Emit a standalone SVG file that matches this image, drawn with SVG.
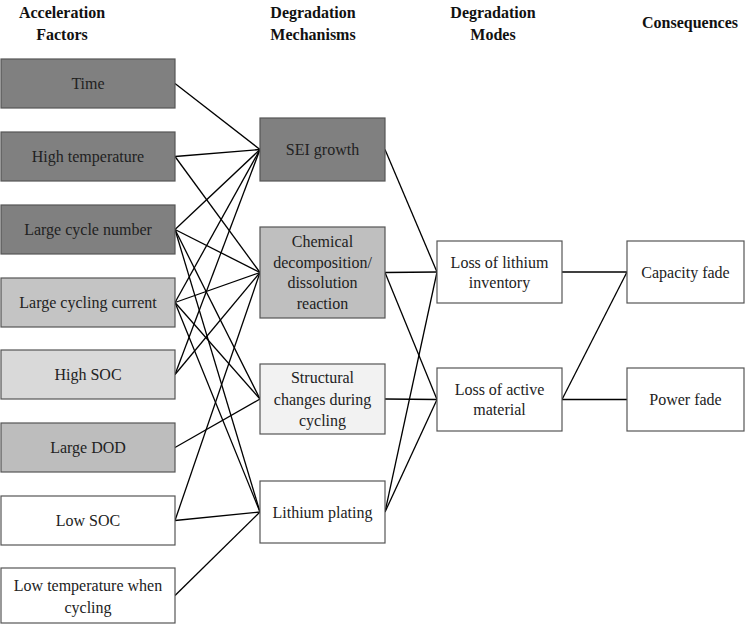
<svg xmlns="http://www.w3.org/2000/svg" width="746" height="624" viewBox="0 0 746 624">
<style>
.h{font-family:"Liberation Serif","Times New Roman",serif;font-weight:bold;font-size:16px;text-anchor:middle;fill:#111}
.t{font-family:"Liberation Serif","Times New Roman",serif;font-size:16px;text-anchor:middle;fill:#222}
.b{stroke:#555;stroke-width:1.2}
.c line{stroke:#000;stroke-width:1.3}
</style>
<rect width="746" height="624" fill="#fff"/>
<g id="headers">
<text class="h" x="62" y="18">Acceleration</text>
<text class="h" x="62" y="40">Factors</text>
<text class="h" x="313" y="18">Degradation</text>
<text class="h" x="313" y="40">Mechanisms</text>
<text class="h" x="493" y="18">Degradation</text>
<text class="h" x="493" y="40">Modes</text>
<text class="h" x="690" y="28">Consequences</text>
</g>
<g class="c" id="connectors">
<line x1="175" y1="83.5" x2="260" y2="149.5"/>
<line x1="175" y1="156.5" x2="260" y2="149.5"/>
<line x1="175" y1="156.5" x2="260" y2="272.5"/>
<line x1="175" y1="229.5" x2="260" y2="149.5"/>
<line x1="175" y1="229.5" x2="260" y2="272.5"/>
<line x1="175" y1="229.5" x2="260" y2="399"/>
<line x1="175" y1="229.5" x2="260" y2="512"/>
<line x1="175" y1="302.5" x2="260" y2="149.5"/>
<line x1="175" y1="302.5" x2="260" y2="272.5"/>
<line x1="175" y1="302.5" x2="260" y2="399"/>
<line x1="175" y1="302.5" x2="260" y2="512"/>
<line x1="175" y1="374.5" x2="260" y2="149.5"/>
<line x1="175" y1="374.5" x2="260" y2="272.5"/>
<line x1="175" y1="447.5" x2="260" y2="399"/>
<line x1="175" y1="520.5" x2="260" y2="272.5"/>
<line x1="175" y1="520.5" x2="260" y2="512"/>
<line x1="175" y1="595.5" x2="260" y2="512"/>
<line x1="385" y1="149.5" x2="437" y2="272"/>
<line x1="385" y1="272.5" x2="437" y2="272"/>
<line x1="385" y1="272.5" x2="437" y2="399.5"/>
<line x1="385" y1="399" x2="437" y2="399.5"/>
<line x1="385" y1="512" x2="437" y2="272"/>
<line x1="385" y1="512" x2="437" y2="399.5"/>
<line x1="562" y1="272" x2="627" y2="272"/>
<line x1="562" y1="399.5" x2="627" y2="272"/>
<line x1="562" y1="399.5" x2="627" y2="399.5"/>
</g>
<g id="n-time"><rect class="b" x="1" y="59" width="174" height="49" fill="#808080"/><text class="t" x="88" y="89">Time</text></g>
<g id="n-hightemp"><rect class="b" x="1" y="132" width="174" height="49" fill="#808080"/><text class="t" x="88" y="162">High temperature</text></g>
<g id="n-cyclenum"><rect class="b" x="1" y="205" width="174" height="49" fill="#808080"/><text class="t" x="88" y="235">Large cycle number</text></g>
<g id="n-current"><rect class="b" x="1" y="278" width="174" height="49" fill="#c4c4c4"/><text class="t" x="88" y="308">Large cycling current</text></g>
<g id="n-highsoc"><rect class="b" x="1" y="350" width="174" height="49" fill="#d9d9d9"/><text class="t" x="88" y="380">High SOC</text></g>
<g id="n-dod"><rect class="b" x="1" y="423" width="174" height="49" fill="#bdbdbd"/><text class="t" x="88" y="453">Large DOD</text></g>
<g id="n-lowsoc"><rect class="b" x="1" y="496" width="174" height="49" fill="#fff"/><text class="t" x="88" y="526">Low SOC</text></g>
<g id="n-lowtemp"><rect class="b" x="1" y="568" width="174" height="55" fill="#fff"/><text class="t" x="88" y="591">Low temperature when</text><text class="t" x="88" y="613">cycling</text></g>
<g id="n-sei"><rect class="b" x="260" y="118" width="125" height="63" fill="#808080"/><text class="t" x="322.5" y="155">SEI growth</text></g>
<g id="n-chem"><rect class="b" x="260" y="227" width="125" height="91" fill="#bfbfbf"/><text class="t" x="322.5" y="247">Chemical</text><text class="t" x="322.5" y="268">decomposition/</text><text class="t" x="322.5" y="288">dissolution</text><text class="t" x="322.5" y="309">reaction</text></g>
<g id="n-struct"><rect class="b" x="260" y="364" width="125" height="70" fill="#f2f2f2"/><text class="t" x="322.5" y="383">Structural</text><text class="t" x="322.5" y="405">changes during</text><text class="t" x="322.5" y="426">cycling</text></g>
<g id="n-plating"><rect class="b" x="260" y="481" width="125" height="62" fill="#fff"/><text class="t" x="322.5" y="518">Lithium plating</text></g>
<g id="n-lli"><rect class="b" x="437" y="241" width="125" height="62" fill="#fff"/><text class="t" x="499.5" y="268">Loss of lithium</text><text class="t" x="499.5" y="288">inventory</text></g>
<g id="n-lam"><rect class="b" x="437" y="368" width="125" height="63" fill="#fff"/><text class="t" x="499.5" y="395">Loss of active</text><text class="t" x="499.5" y="415">material</text></g>
<g id="n-capacity"><rect class="b" x="627" y="241" width="117" height="62" fill="#fff"/><text class="t" x="685.5" y="278">Capacity fade</text></g>
<g id="n-power"><rect class="b" x="627" y="368" width="117" height="63" fill="#fff"/><text class="t" x="685.5" y="405">Power fade</text></g>
</svg>
